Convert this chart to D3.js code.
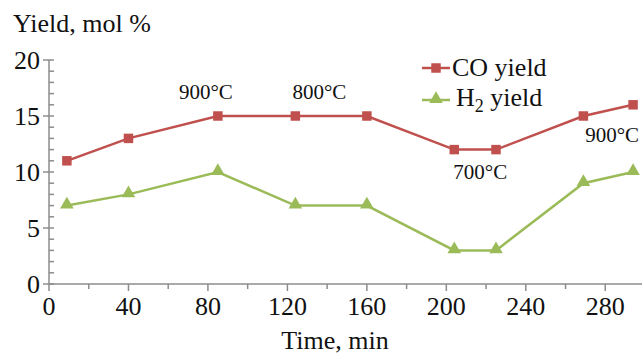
<!DOCTYPE html>
<html>
<head>
<meta charset="utf-8">
<script src="https://cdn.jsdelivr.net/npm/d3@7"></script>
<style>
  body { margin: 0; background: #fff; }
  text { font-family: "Liberation Serif", "DejaVu Serif", serif; fill: #111; }
</style>
</head>
<body>
<div id="chart"></div>
<script>
// data
var times = [9, 40, 85, 124, 160, 204, 225, 269, 294];
var coYield = [11, 13, 15, 15, 15, 12, 12, 15, 16];
var h2Yield = [7, 8, 10, 7, 7, 3, 3, 9, 10];
var xTicks = [0, 40, 80, 120, 160, 200, 240, 280];
var yTicks = [0, 5, 10, 15, 20];
var tempLabels = ["900°C", "800°C", "700°C", "900°C"];
var tempAt = [2, 3, 5, 8]; // index of the point each label belongs to

var width = 642, height = 354;
var red = "#c0504d", green = "#9bbb59", axisCol = "#8c8c8c";

var svg = d3.select("#chart").append("svg")
  .attr("width", width)
  .attr("height", height);

var x = d3.scaleLinear().domain([0, 300]).range([49, 645]);
var y = d3.scaleLinear().domain([0, 20]).range([284, 60]);

// x axis
var xAxis = svg.append("g").attr("transform", "translate(0," + y(0) + ")");
xAxis.append("line").attr("x1", x(0)).attr("x2", width).attr("stroke", axisCol).attr("stroke-width", 1.5);
xAxis.selectAll(".minor").data(d3.range(20, 300, 40)).enter().append("line")
  .attr("x1", function(d) { return x(d); }).attr("x2", function(d) { return x(d); })
  .attr("y1", 0).attr("y2", 5).attr("stroke", axisCol).attr("stroke-width", 1.5);
xAxis.selectAll(".major").data(xTicks).enter().append("line")
  .attr("x1", function(d) { return x(d); }).attr("x2", function(d) { return x(d); })
  .attr("y1", 0).attr("y2", 7).attr("stroke", axisCol).attr("stroke-width", 1.5);
xAxis.selectAll(".lab").data(xTicks).enter().append("text")
  .attr("x", function(d) { return x(d); })
  .attr("y", 31)
  .attr("text-anchor", "middle")
  .style("font-size", "26px")
  .text(function(d) { return d; });

// y axis
var yAxis = svg.append("g").attr("transform", "translate(" + x(0) + ",0)");
yAxis.append("line").attr("y1", y(0)).attr("y2", y(20)).attr("stroke", axisCol).attr("stroke-width", 1.5);
yAxis.selectAll(".minor").data(d3.range(1, 20).filter(function(d) { return d % 5 != 0; })).enter().append("line")
  .attr("y1", function(d) { return y(d); }).attr("y2", function(d) { return y(d); })
  .attr("x1", 0).attr("x2", 5).attr("stroke", axisCol).attr("stroke-width", 1.5);
yAxis.selectAll(".major").data(yTicks).enter().append("line")
  .attr("y1", function(d) { return y(d); }).attr("y2", function(d) { return y(d); })
  .attr("x1", -6).attr("x2", 5).attr("stroke", axisCol).attr("stroke-width", 1.5);
yAxis.selectAll(".lab").data(yTicks).enter().append("text")
  .attr("x", -9)
  .attr("y", function(d) { return y(d) + 9; })
  .attr("text-anchor", "end")
  .style("font-size", "26px")
  .text(function(d) { return d; });

// titles
svg.append("text").attr("x", 13).attr("y", 32).style("font-size", "26px").text("Yield, mol %");
svg.append("text").attr("x", 335).attr("y", 349).attr("text-anchor", "middle")
  .style("font-size", "26px").text("Time, min");

var line = function(vals) {
  return d3.line()
    .x(function(d, i) { return x(times[i]); })
    .y(function(d) { return y(d); })(vals);
};

svg.append("path").attr("d", line(coYield)).attr("fill", "none").attr("stroke", red).attr("stroke-width", 2.5);
svg.append("path").attr("d", line(h2Yield)).attr("fill", "none").attr("stroke", green).attr("stroke-width", 2.5);

var sq = d3.symbol().type(d3.symbolSquare).size(90);
var tri = d3.symbol().type(d3.symbolTriangle).size(80);

svg.selectAll(".co").data(coYield).enter().append("path")
  .attr("d", sq)
  .attr("transform", function(d, i) { return "translate(" + x(times[i]) + "," + y(d) + ")"; })
  .attr("fill", red);

svg.selectAll(".h2").data(h2Yield).enter().append("path")
  .attr("d", tri)
  .attr("transform", function(d, i) { return "translate(" + x(times[i]) + "," + (y(d) - 1) + ")"; })
  .attr("fill", green);

// temperature labels, placed relative to their point
var tempOffsets = [[-12, -17], [24, -17], [26, 29], [-21, 37]];
svg.selectAll(".temp").data(tempLabels).enter().append("text")
  .attr("x", function(d, i) { return x(times[tempAt[i]]) + tempOffsets[i][0]; })
  .attr("y", function(d, i) { return y(coYield[tempAt[i]]) + tempOffsets[i][1]; })
  .attr("text-anchor", "middle")
  .style("font-size", "21px")
  .text(function(d) { return d; });

// legend
var legend = svg.append("g").attr("transform", "translate(422,0)");
legend.append("line").attr("x1", 0).attr("x2", 28).attr("y1", 68).attr("y2", 68).attr("stroke", red).attr("stroke-width", 2.5);
legend.append("path").attr("d", sq).attr("transform", "translate(14,68)").attr("fill", red);
legend.append("text").attr("x", 30).attr("y", 76).style("font-size", "26px").text("CO yield");
legend.append("line").attr("x1", 0).attr("x2", 28).attr("y1", 100).attr("y2", 100).attr("stroke", green).attr("stroke-width", 2.5);
legend.append("path").attr("d", tri).attr("transform", "translate(14,99)").attr("fill", green);
var h2 = legend.append("text").attr("x", 34).attr("y", 106).style("font-size", "26px");
h2.append("tspan").text("H");
h2.append("tspan").attr("dy", 6).style("font-size", "18px").text("2");
h2.append("tspan").attr("dy", -6).text(" yield");
</script>
</body>
</html>
